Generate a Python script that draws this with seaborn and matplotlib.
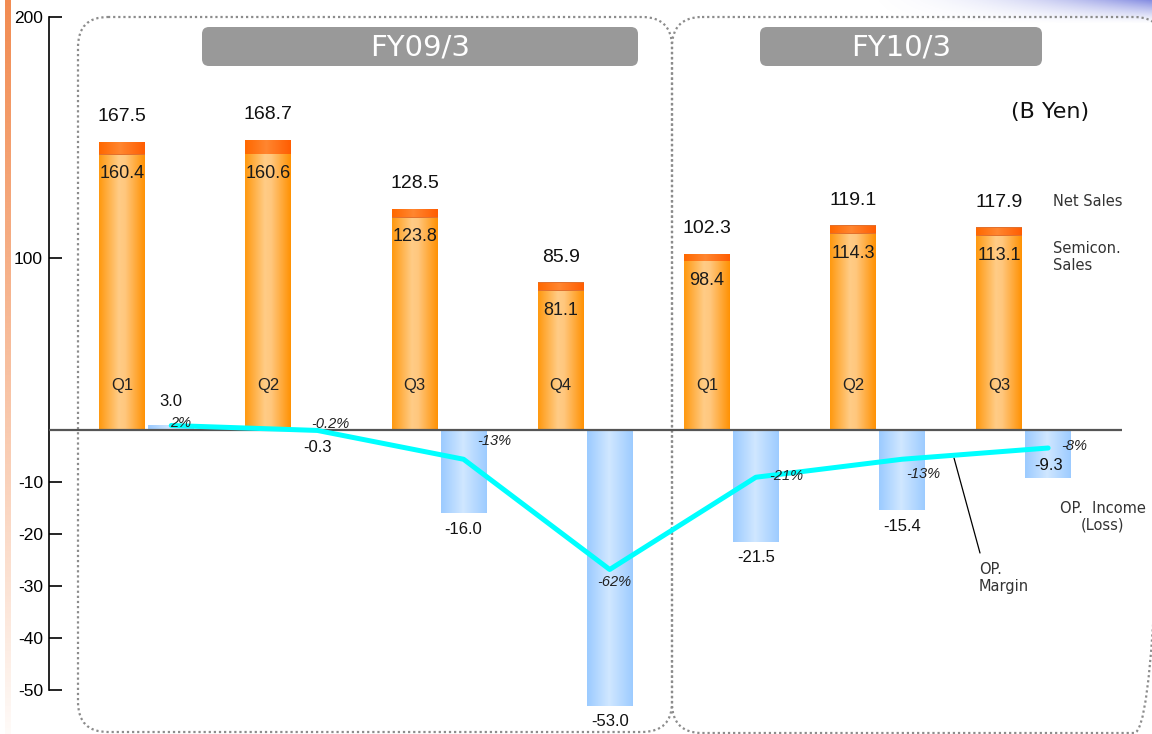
import numpy as np
import pandas as pd
import matplotlib
matplotlib.use('Agg')
import matplotlib.pyplot as plt
import seaborn as sns
from matplotlib.colors import LinearSegmentedColormap, to_rgb
from matplotlib.patches import FancyBboxPatch

# data (B Yen)
periods = ['FY09 Q1', 'FY09 Q2', 'FY09 Q3', 'FY09 Q4', 'FY10 Q1', 'FY10 Q2', 'FY10 Q3']
quarter_labels = ['Q1', 'Q2', 'Q3', 'Q4', 'Q1', 'Q2', 'Q3']
net_sales = [167.5, 168.7, 128.5, 85.9, 102.3, 119.1, 117.9]
semicon_sales = [160.4, 160.6, 123.8, 81.1, 98.4, 114.3, 113.1]
op_income = [3.0, -0.3, -16.0, -53.0, -21.5, -15.4, -9.3]
op_margin = [2, -0.2, -13, -62, -21, -13, -8]
margin_labels = ['2%', '-0.2%', '-13%', '-62%', '-21%', '-13%', '-8%']
fiscal_years = ['FY09/3', 'FY10/3']
tick_values = [240, 100, -10, -20, -30, -40, -50]
tick_labels = ['200', '100', '-10', '-20', '-30', '-40', '-50']

sns.set_style('white')
plt.rcParams['font.family'] = ['DejaVu Sans']

W, H = 1152, 734
fig = plt.figure(figsize=(W / 100, H / 100), dpi=100)

# background layer in pixel coordinates (slide decoration, panels)
bg = fig.add_axes([0, 0, 1, 1], zorder=0)
bg.set_xlim(0, W)
bg.set_ylim(H, 0)
bg.axis('off')

t = np.linspace(0, 1, 300).reshape(-1, 1)
strip = np.zeros((300, 1, 4))
strip[..., :3] = np.array(to_rgb('#F28C52'))
strip[..., 3] = 1 - 0.96 * t ** 1.1
bg.imshow(strip, extent=(5, 11, H, 0), aspect='auto', zorder=0)

gx = np.linspace(0, 1, 300).reshape(1, -1)
gy = np.linspace(0, 1, 40).reshape(-1, 1)
corner = np.zeros((40, 300, 4))
corner[..., :3] = np.array(to_rgb('#6E78DC'))
corner[..., 3] = 0.85 * np.clip(gx, 0, 1) ** 2.2 * (1 - gy) ** 1.3
bg.imshow(corner, extent=(852, W, 24, 0), aspect='auto', zorder=0)

panel_style = dict(boxstyle='round,pad=0,rounding_size=30', fill=False,
                   ec='#8c8c8c', lw=1.6, ls=(0, (1, 1.3)))
bg.add_patch(FancyBboxPatch((78, 17), 594, 715, **panel_style))
bg.add_patch(FancyBboxPatch((672, 17), 492, 716, **panel_style))

for (x0, w), label in zip([(202, 436), (760, 282)], fiscal_years):
    bg.add_patch(FancyBboxPatch((x0, 27), w, 39, boxstyle='round,pad=0,rounding_size=7',
                                fc='#999999', ec='none'))
    bg.text(x0 + w / 2, 47, label, color='white', fontsize=21, ha='center', va='center')

bg.text(1050, 112, '(B Yen)', fontsize=16, ha='center', va='center', color='#111111')
bg.text(1053, 201, 'Net Sales', fontsize=10.5, ha='left', va='center', color='#333333')
bg.text(1053, 257, 'Semicon.\nSales', fontsize=10.5, ha='left', va='center',
        color='#333333', linespacing=1.15)
bg.text(1103, 517, 'OP.  Income\n(Loss)', fontsize=10.5, ha='center', va='center',
        multialignment='center', color='#333333', linespacing=1.15)
bg.text(979, 578, 'OP.\nMargin', fontsize=10.5, ha='left', va='center',
        color='#333333', linespacing=1.2)
bg.plot([954, 980], [458, 553], color='black', lw=0.9)

# main chart
ax = fig.add_axes([49 / W, 0, (1122 - 49) / W, (H - 17) / H], zorder=1)
ax.patch.set_alpha(0)

idx = np.arange(len(periods))
kinds = ['sales', 'income']
bars_df = pd.DataFrame({'pos': np.concatenate([idx, idx]),
                        'kind': ['sales'] * len(idx) + ['income'] * len(idx),
                        'value': net_sales + op_income})
semi_df = pd.DataFrame({'pos': idx, 'kind': ['sales'] * len(idx), 'value': semicon_sales})

bar_kw = dict(x='pos', y='value', hue='kind', hue_order=kinds, width=0.67, gap=0.06,
              dodge=True, palette={'sales': '#FF6A10', 'income': '#A8D0FF'}, legend=False,
              errorbar=None, linewidth=0, ax=ax)
sns.barplot(data=bars_df, **bar_kw)
sns.barplot(data=semi_df, **bar_kw)

cap_bars, income_bars, semi_bars = ax.containers[0], ax.containers[1], ax.containers[2]

def shade(bar, colors, z):
    x0, y0, w, h = bar.get_x(), bar.get_y(), bar.get_width(), bar.get_height()
    cmap = LinearSegmentedColormap.from_list('g', colors)
    im = ax.imshow(np.linspace(0, 1, 128).reshape(1, -1), cmap=cmap,
                   extent=(x0, x0 + w, min(y0, y0 + h), max(y0, y0 + h)),
                   aspect='auto', origin='lower', interpolation='bilinear', zorder=z)
    im.set_clip_path(bar)

cap_colors = [(0, '#FF6800'), (0.45, '#FF8630'), (1, '#FF5C00')]
body_colors = [(0, '#FF9A12'), (0.42, '#FFCC86'), (0.56, '#FFC77E'), (1, '#FF9000')]
blue_colors = [(0, '#9CCBFF'), (0.47, '#D0E7FF'), (1, '#9CCBFF')]
for b in cap_bars:
    shade(b, cap_colors, 1.5)
for b in semi_bars:
    b.set_zorder(2)
    shade(b, body_colors, 2.5)
for b in income_bars:
    shade(b, blue_colors, 1.5)

NEG = 5.2 / 1.72
ax.set_yscale('function', functions=(lambda y: np.where(np.asarray(y) >= 0, y, np.asarray(y) * NEG),
                                     lambda y: np.where(np.asarray(y) >= 0, y, np.asarray(y) / NEG)))
ax.set_ylim(-(H - 430) / 5.2, 240)
ax.set_xlim(-0.669, 6.673)
ax.axhline(0, color='#555555', lw=1.6, zorder=4)

off = 0.67 / 4
num_font = 'Liberation Sans'
for i in idx:
    xo, xb = i - off, i + off
    ax.annotate(f'{net_sales[i]:.1f}', (xo, net_sales[i]), xytext=(0, 25), textcoords='offset pixels',
                ha='center', va='center', fontsize=14, family=num_font, color='#111111', zorder=5)
    ax.annotate(f'{semicon_sales[i]:.1f}', (xo, semicon_sales[i]), xytext=(0, -20),
                textcoords='offset pixels', ha='center', va='center', fontsize=13,
                family=num_font, color='#1a1a1a', zorder=5)
    ax.annotate(quarter_labels[i], (xo, 0), xytext=(0, 44), textcoords='offset pixels',
                ha='center', va='center', fontsize=12, family=num_font, color='#222222', zorder=5)
    v = op_income[i]
    if v >= 0:
        dy = 23
    elif i == len(idx) - 1:
        dy = 13
    else:
        dy = -16
    ax.annotate(f'{v:.1f}', (xb, v), xytext=(0, dy), textcoords='offset pixels',
                ha='center', va='center', fontsize=12, family=num_font, color='#111111', zorder=5)

ax.set_xticks([])
ax.set_xlabel('')
ax.set_ylabel('')
ax.set_yticks(tick_values, tick_labels, fontsize=12.5, family=num_font)
ax.tick_params(axis='y', direction='in', length=9.5, width=1.2, pad=4.3, colors='black')
for side in ['top', 'right', 'bottom']:
    ax.spines[side].set_visible(False)
ax.spines['left'].set_bounds(-50, 240)
ax.spines['left'].set_color('black')
ax.spines['left'].set_linewidth(1.2)

# operating margin on its own scale
ax2 = ax.twinx()
sns.lineplot(x=idx + off, y=op_margin, ax=ax2, color='#00FFFF', lw=3.6)
ax2.set_ylim(-(H - 430) / 2.25, (430 - 17) / 2.25)
ax2.axis('off')
label_offsets = [(9, 2), (13, 6), (31, 18), (5, -13), (30, 1), (21, -15), (26, 2)]
for i, (dx, dy) in enumerate(label_offsets):
    ax2.annotate(margin_labels[i], (idx[i] + off, op_margin[i]), xytext=(dx, dy),
                 textcoords='offset pixels', ha='center', va='center', fontsize=10.5,
                 style='italic', family=num_font, color='#222222')

fig.savefig('out.png', dpi=100)
